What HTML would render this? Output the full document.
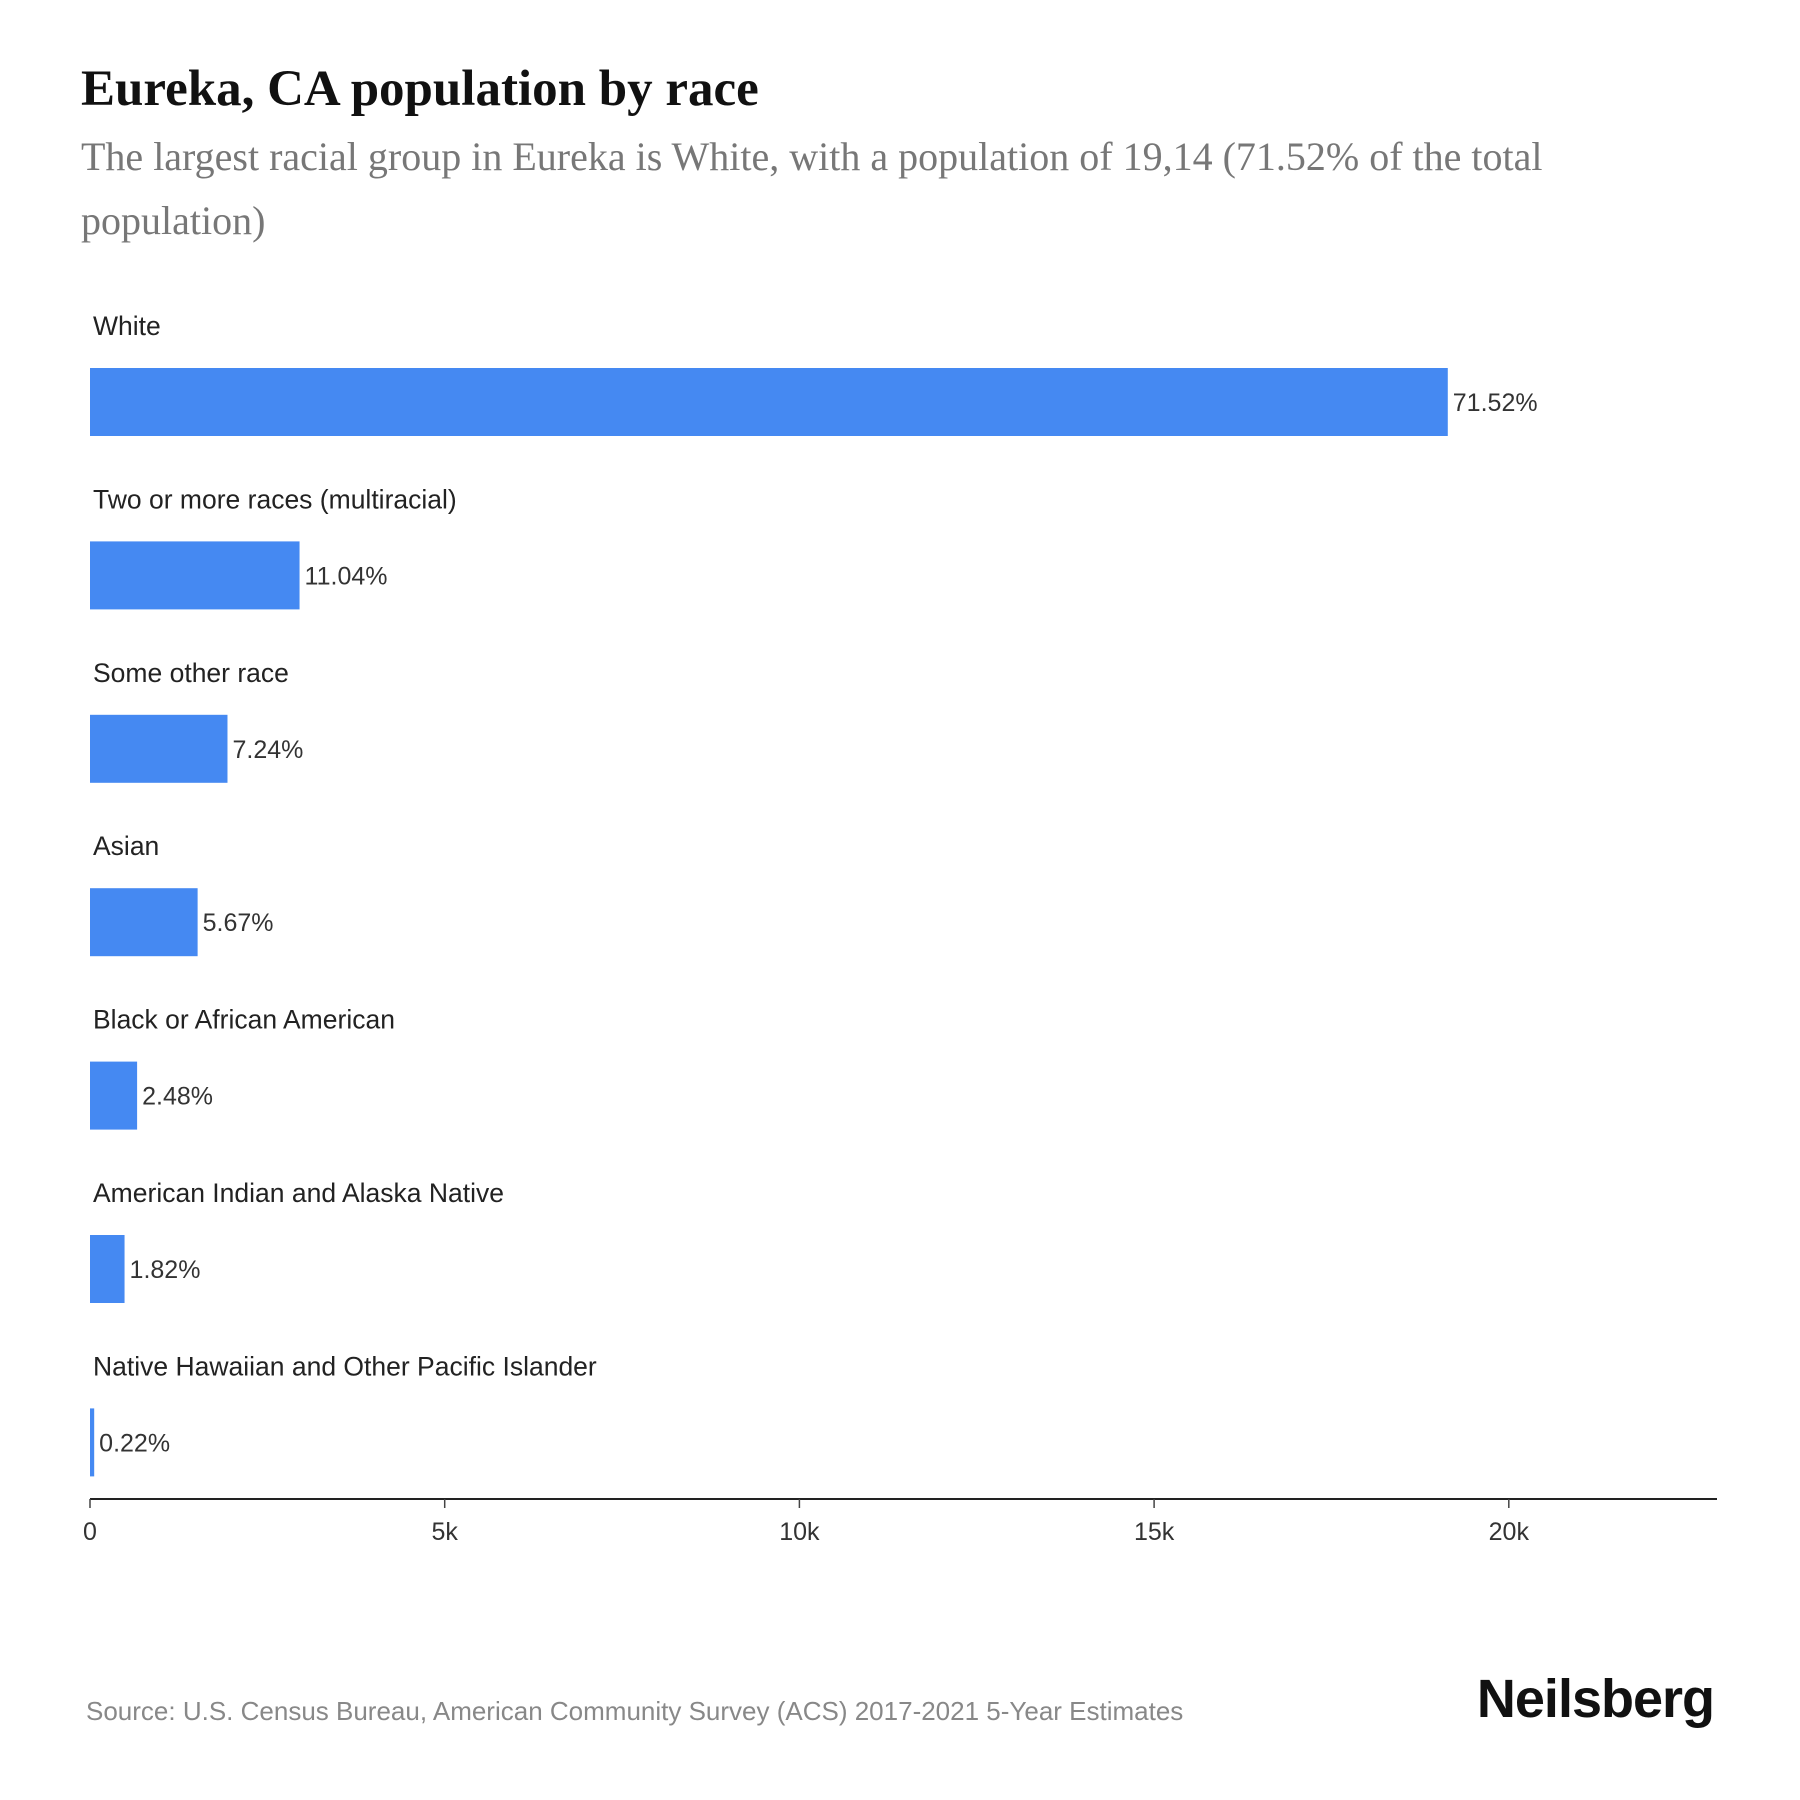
<!DOCTYPE html>
<html><head><meta charset="utf-8"><style>
body{margin:0;background:#fff;}
#c{position:relative;width:1800px;height:1800px;overflow:hidden;font-family:"Liberation Sans",sans-serif;}
.title{position:absolute;left:81px;top:60px;font-family:"Liberation Serif",serif;font-weight:bold;font-size:51px;color:#111;white-space:nowrap;}
.sub{position:absolute;left:81px;top:125px;width:1700px;font-family:"Liberation Serif",serif;font-size:40px;line-height:64px;color:#777;white-space:nowrap;}
.src{position:absolute;left:86px;top:1696px;font-size:26px;color:#888;white-space:nowrap;}
.logo{position:absolute;right:86px;top:1668px;font-size:54px;font-weight:bold;color:#111;letter-spacing:-1px;}
</style></head><body>
<div id="c">
<div class="title">Eureka, CA population by race</div>
<div class="sub">The largest racial group in Eureka is White, with a population of 19,14 (71.52% of the total<br>population)</div>
<svg id="svg" width="1800" height="1800" style="position:absolute;left:0;top:0"></svg>
<div class="src">Source: U.S. Census Bureau, American Community Survey (ACS) 2017-2021 5-Year Estimates</div>
<div class="logo">Neilsberg</div>
</div>
<script>
const categories=["White","Two or more races (multiracial)","Some other race","Asian","Black or African American","American Indian and Alaska Native","Native Hawaiian and Other Pacific Islander"];
const values=[19140,2954,1938,1517,664,487,59];
const pctLabels=["71.52%","11.04%","7.24%","5.67%","2.48%","1.82%","0.22%"];
const tickValues=[0,5000,10000,15000,20000];
const tickLabels=["0","5k","10k","15k","20k"];
const NS="http://www.w3.org/2000/svg";
const svg=document.getElementById('svg');
const x0=90,pxPer=354.7/5000;
const xs=v=>x0+v*pxPer;
const rowTop=i=>368+i*173.4;
function mk(t,a){const e=document.createElementNS(NS,t);for(const k in a)e.setAttribute(k,a[k]);svg.appendChild(e);return e;}
categories.forEach((c,i)=>{
  const y=rowTop(i);
  const lab=mk('text',{x:93,y:y-33,'font-size':26.5,fill:'#222','font-family':'Liberation Sans, sans-serif'});
  lab.textContent=c;
  
  
  const w=Math.max(xs(values[i])-x0,3);
  const r=mk('rect',{x:x0,y:y,width:w,height:68,fill:'#4589f2'});
  
  
  const vl=mk('text',{x:x0+w+5,y:y+43,'font-size':25,fill:'#333','font-family':'Liberation Sans, sans-serif'});
  vl.textContent=pctLabels[i];
  
  
});
const ax=mk('line',{x1:x0,x2:1717,y1:1499,y2:1499,stroke:'#222','stroke-width':2});


tickValues.forEach((t,i)=>{
  const x=xs(t);
  const tk=mk('line',{x1:x,x2:x,y1:1499,y2:1508,stroke:'#444','stroke-width':1.5});
  
  
  const tl=mk('text',{x:x,y:1540,'font-size':25,fill:'#333','text-anchor':'middle','font-family':'Liberation Sans, sans-serif'});
  tl.textContent=tickLabels[i];
  
  
});
</script>
</body></html>
